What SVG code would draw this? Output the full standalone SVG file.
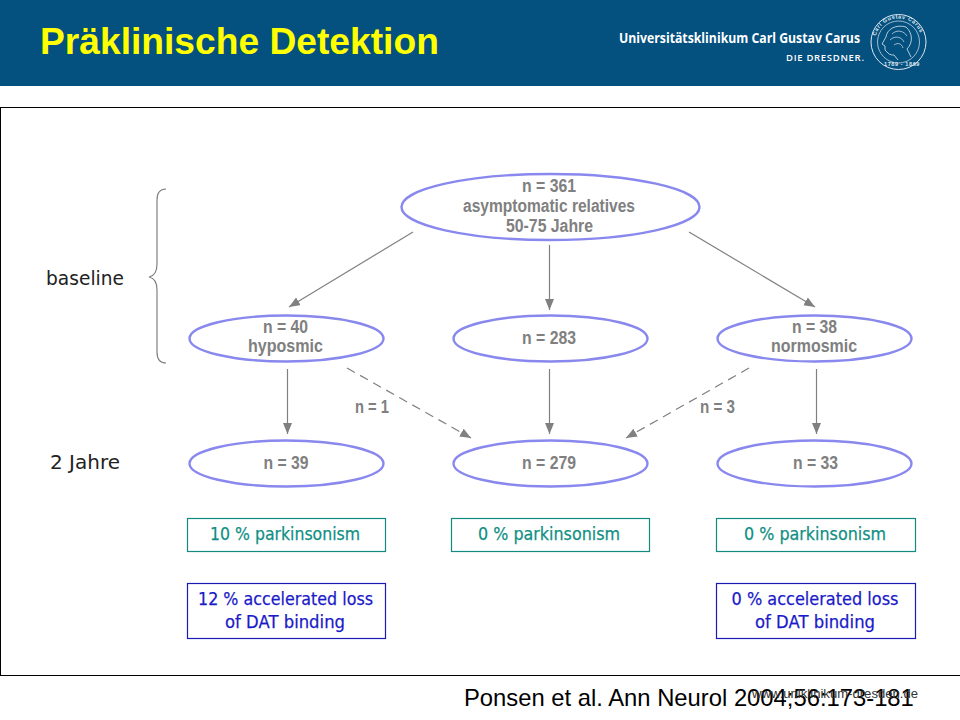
<svg xmlns="http://www.w3.org/2000/svg" width="960" height="720" viewBox="0 0 960 720">
<style>
.n{font:bold 17.5px "Liberation Sans",Arial,sans-serif;fill:#808080;text-anchor:middle}
.e{fill:#fff;stroke:#8888ee;stroke-width:2.4}
.c{fill:none;stroke:#808080;stroke-width:1.2}
.d{stroke-dasharray:9 6}
.l{font:19px "DejaVu Sans",sans-serif;fill:#222;text-anchor:middle}
.t{font:17.5px "DejaVu Sans",sans-serif;fill:#0f8f84;stroke:#0f8f84;stroke-width:.25;text-anchor:middle}
.b{font:17.5px "DejaVu Sans",sans-serif;fill:#1a1ac8;stroke:#1a1ac8;stroke-width:.25;text-anchor:middle}
.tb{fill:#fff;stroke:#128a80;stroke-width:1.2}
.bb{fill:#fff;stroke:#1a1ab4;stroke-width:1.2}
.s{font:bold 5.5px "Liberation Sans",Arial,sans-serif;fill:#dfe8f0;letter-spacing:.6px}
</style>
<defs>
<marker id="a" markerWidth="12" markerHeight="10" refX="11" refY="4.500" orient="auto" markerUnits="userSpaceOnUse"><path d="M0 0L11 4.500L0 9Z" fill="#808080"/></marker>
<path id="st" d="M875 42A23.500 23.500 0 0 1 922 42"/>
</defs>
<rect width="960" height="720" fill="#fff"/>
<g id="header">
<rect width="960" height="86" fill="#04507f"/>
<text x="40" y="54" font-family="Liberation Sans,Arial,sans-serif" font-weight="bold" font-size="37.200" fill="#ffff00">Präklinische Detektion</text>
<text x="619" y="43" font-family="Open Sans,sans-serif" font-weight="700" font-size="14.500" fill="#fff" textLength="241" lengthAdjust="spacingAndGlyphs">Universitätsklinikum Carl Gustav Carus</text>
<text x="786" y="61" font-family="Open Sans,sans-serif" font-weight="600" font-size="9.500" fill="#fff" textLength="78" lengthAdjust="spacing">DIE DRESDNER.</text>
<g fill="none" stroke="#dfe8f0">
<circle cx="898.500" cy="42" r="27.500" stroke-width="1"/><circle cx="898.500" cy="42" r="21" stroke-width=".7"/>
<path d="M906 27C896 24 887 29 886 37L882 44L885 46L885 50L888 53C890 55 892 55 894 55L898 60M906 27C913 33 913 43 907 49L911 57" stroke-width=".8"/>
<path d="M892 34C897 29 904 31 907 36M890 40C895 35 902 37 904 42M894 45C898 42 902 44 903 48" stroke-width=".7"/>
</g>
<text class="s"><textPath href="#st" startOffset="6">Carl Gustav Carus</textPath></text>
<text class="s" x="884" y="66">1789 - 1869</text>
</g>
<rect id="frame" x="0.500" y="107.500" width="960" height="568" fill="#fff" stroke="#000" stroke-width="1"/>
<g id="connectors">
<path class="c" marker-end="url(#a)" d="M413 232L289 307"/>
<path class="c" marker-end="url(#a)" d="M549.500 245V310"/>
<path class="c" marker-end="url(#a)" d="M689 232L815 307"/>
<path class="c" marker-end="url(#a)" d="M287.500 369V434"/>
<path class="c" marker-end="url(#a)" d="M549.500 369V434"/>
<path class="c" marker-end="url(#a)" d="M816.500 369V434"/>
<path class="c d" marker-end="url(#a)" d="M347 368L471 438"/>
<path class="c d" marker-end="url(#a)" d="M749 368L626 438"/>
<path class="c" stroke-width="1" d="M166 189C160 189 157 193 157 200V264C157 271 154 276 149 277C154 278 157 283 157 290V352C157 359 160 363 166 363"/>
</g>
<g id="n361"><ellipse class="e" cx="550.500" cy="207" rx="149" ry="33"/>
<text class="n" x="549" y="192" textLength="54" lengthAdjust="spacingAndGlyphs">n = 361</text>
<text class="n" x="549" y="212" textLength="172" lengthAdjust="spacingAndGlyphs">asymptomatic relatives</text>
<text class="n" x="549.500" y="232" textLength="87" lengthAdjust="spacingAndGlyphs">50-75 Jahre</text></g>
<g id="n40"><ellipse class="e" cx="286.500" cy="338.500" rx="97" ry="23"/>
<text class="n" x="285.500" y="333" textLength="45" lengthAdjust="spacingAndGlyphs">n = 40</text>
<text class="n" x="285.500" y="352" textLength="75" lengthAdjust="spacingAndGlyphs">hyposmic</text></g>
<g id="n283"><ellipse class="e" cx="550.500" cy="338.500" rx="97" ry="23"/>
<text class="n" x="549" y="344" textLength="54" lengthAdjust="spacingAndGlyphs">n = 283</text></g>
<g id="n38"><ellipse class="e" cx="814.500" cy="338.500" rx="97" ry="23"/>
<text class="n" x="814.500" y="333" textLength="45" lengthAdjust="spacingAndGlyphs">n = 38</text>
<text class="n" x="814" y="352" textLength="86" lengthAdjust="spacingAndGlyphs">normosmic</text></g>
<g id="n39"><ellipse class="e" cx="286.500" cy="463.500" rx="97" ry="23"/>
<text class="n" x="286" y="469" textLength="45" lengthAdjust="spacingAndGlyphs">n = 39</text></g>
<g id="n279"><ellipse class="e" cx="550.500" cy="463.500" rx="97" ry="23"/>
<text class="n" x="549" y="469" textLength="54" lengthAdjust="spacingAndGlyphs">n = 279</text></g>
<g id="n33"><ellipse class="e" cx="814.500" cy="463.500" rx="97" ry="23"/>
<text class="n" x="815.500" y="469" textLength="45" lengthAdjust="spacingAndGlyphs">n = 33</text></g>
<text class="n" x="372" y="413" textLength="34" lengthAdjust="spacingAndGlyphs">n = 1</text>
<text class="n" x="717.500" y="413" textLength="35" lengthAdjust="spacingAndGlyphs">n = 3</text>
<text class="l" x="85" y="285" textLength="78" lengthAdjust="spacingAndGlyphs">baseline</text>
<text class="l" x="85" y="469" textLength="70" lengthAdjust="spacingAndGlyphs">2 Jahre</text>
<g id="p1"><rect class="tb" x="187.500" y="518.500" width="198" height="33"/><text class="t" x="285" y="540" textLength="150" lengthAdjust="spacingAndGlyphs">10 % parkinsonism</text></g>
<g id="p2"><rect class="tb" x="451.500" y="518.500" width="198" height="33"/><text class="t" x="549" y="540" textLength="142" lengthAdjust="spacingAndGlyphs">0 % parkinsonism</text></g>
<g id="p3"><rect class="tb" x="716.500" y="518.500" width="199" height="33"/><text class="t" x="815" y="540" textLength="142" lengthAdjust="spacingAndGlyphs">0 % parkinsonism</text></g>
<g id="d1"><rect class="bb" x="187.500" y="583.500" width="198" height="55"/><text class="b" x="285.500" y="605" textLength="175" lengthAdjust="spacingAndGlyphs">12 % accelerated loss</text><text class="b" x="285" y="628" textLength="120" lengthAdjust="spacingAndGlyphs">of DAT binding</text></g>
<g id="d3"><rect class="bb" x="716.500" y="583.500" width="199" height="55"/><text class="b" x="815" y="605" textLength="167" lengthAdjust="spacingAndGlyphs">0 % accelerated loss</text><text class="b" x="815" y="628" textLength="120" lengthAdjust="spacingAndGlyphs">of DAT binding</text></g>
<text x="464" y="706" font-family="Liberation Sans,Arial,sans-serif" font-size="23.800" fill="#000">Ponsen et al. Ann Neurol 2004;56:173-181</text>
<text x="752" y="698" font-family="Liberation Sans,Arial,sans-serif" font-size="12" fill="#333" textLength="166" lengthAdjust="spacingAndGlyphs">www.uniklinikum-dresden.de</text>
</svg>
